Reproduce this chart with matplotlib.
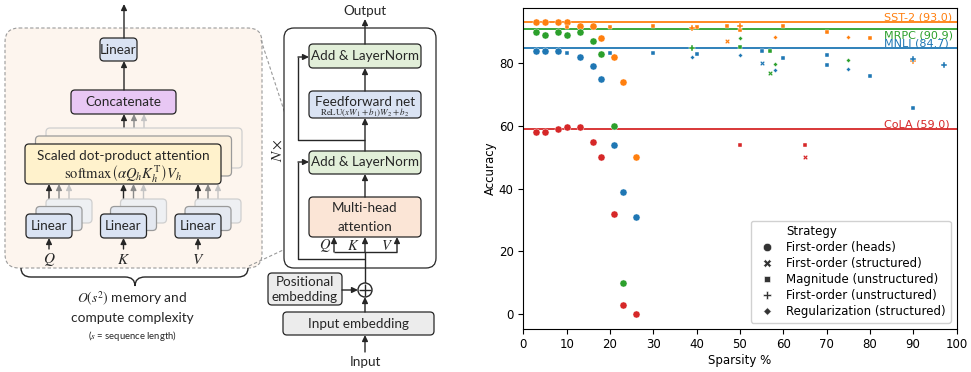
import matplotlib.pyplot as plt
from matplotlib.patches import FancyBboxPatch, FancyArrowPatch, Circle, PathPatch
from matplotlib.path import Path
from matplotlib.lines import Line2D

plt.rcParams['mathtext.fontset'] = 'stix'

# ---------------- data ----------------
tasks = ["SST-2", "MRPC", "MNLI", "CoLA"]
baselines = [93.0, 90.9, 84.7, 59.0]
task_colors = ["#ff7f0e", "#2ca02c", "#1f77b4", "#d62728"]

strategy_names = ["First-order (heads)", "First-order (structured)",
                  "Magnitude (unstructured)", "First-order (unstructured)",
                  "Regularization (structured)"]
strategy_keys = ["heads", "fo_struct", "mag", "fo_unstruct", "reg"]

# (strategy, sparsity %, accuracy)
sst2_points = [
    ("heads", 3, 93.0), ("heads", 5, 93.0), ("heads", 8, 93.0), ("heads", 10, 93.0),
    ("heads", 13, 92.0), ("heads", 16, 92.0), ("heads", 18, 88.0), ("heads", 21, 82.0),
    ("heads", 23, 74.0), ("heads", 26, 50.0),
    ("mag", 10, 91.6), ("mag", 20, 91.6), ("mag", 30, 91.9), ("mag", 40, 91.4),
    ("mag", 47, 92.0), ("mag", 50, 90.6), ("mag", 60, 91.9), ("mag", 70, 90.0), ("mag", 80, 88.0),
    ("fo_unstruct", 39, 91.1), ("fo_unstruct", 50, 91.9), ("fo_unstruct", 90, 80.6),
    ("fo_struct", 47, 87.0),
    ("reg", 58, 88.3), ("reg", 75, 88.3),
]
mrpc_points = [
    ("heads", 3, 90.0), ("heads", 5, 89.0), ("heads", 8, 90.0), ("heads", 10, 89.0),
    ("heads", 13, 90.0), ("heads", 16, 87.0), ("heads", 18, 83.0), ("heads", 21, 60.0),
    ("heads", 23, 10.0),
    ("fo_unstruct", 39, 84.7),
    ("reg", 50, 88.0), ("reg", 58, 79.7), ("reg", 75, 81.0),
    ("mag", 50, 85.1), ("mag", 57, 83.8),
    ("fo_struct", 57, 77.0),
]
mnli_points = [
    ("heads", 3, 84.0), ("heads", 5, 84.0), ("heads", 8, 84.0), ("heads", 13, 82.0),
    ("heads", 16, 79.0), ("heads", 18, 75.0), ("heads", 21, 54.0), ("heads", 23, 39.0),
    ("heads", 26, 31.0),
    ("mag", 10, 83.2), ("mag", 20, 83.4), ("mag", 30, 83.4), ("mag", 40, 83.0),
    ("mag", 55, 84.0), ("mag", 60, 81.8), ("mag", 70, 82.6), ("mag", 70, 79.5),
    ("mag", 80, 75.9), ("mag", 90, 65.8),
    ("reg", 39, 82.0), ("reg", 50, 82.7), ("reg", 58, 77.8), ("reg", 75, 78.3),
    ("fo_struct", 55, 80.0),
    ("fo_unstruct", 90, 81.3), ("fo_unstruct", 97, 79.4),
]
cola_points = [
    ("heads", 3, 58.0), ("heads", 5, 58.0), ("heads", 8, 59.0), ("heads", 10, 59.5),
    ("heads", 13, 59.5), ("heads", 16, 55.0), ("heads", 18, 50.0), ("heads", 21, 32.0),
    ("heads", 23, 3.0), ("heads", 26, 0.0),
    ("mag", 50, 54.0), ("mag", 65, 54.0),
    ("fo_struct", 65, 50.0),
]
task_points = [sst2_points, mrpc_points, mnli_points, cola_points]

markers = {"heads": "o", "fo_struct": "X", "mag": (4, 0, 45),
           "fo_unstruct": "P", "reg": (4, 0, 0)}
marker_sizes = {"heads": 26, "fo_struct": 13, "mag": 10, "fo_unstruct": 14, "reg": 11}

fig = plt.figure(figsize=(9.71, 3.72), dpi=100)

# ---------------- transformer diagram ----------------
ax = fig.add_axes([0, 0, 480 / 971, 1])
ax.set_xlim(0, 480)
ax.set_ylim(372, 0)
ax.axis("off")

FONT = "Lato"
INK = "#262626"
LIN_BLUE = "#dae3f3"
GREEN = "#e2efd9"
GRAY_BOX = "#ececec"
FS = 9.7


def box(x0, y0, x1, y1, fc, ec=INK, lw=0.9, r=4, z=2, ls="-"):
    p = FancyBboxPatch((x0, y0), x1 - x0, y1 - y0,
                       boxstyle=f"round,pad=0,rounding_size={r}",
                       fc=fc, ec=ec, lw=lw, ls=ls, zorder=z)
    ax.add_patch(p)


def arrow(x0, y0, x1, y1, color=INK, lw=1.0, z=3):
    a = FancyArrowPatch((x0, y0), (x1, y1),
                        arrowstyle="-|>,head_length=0.35,head_width=0.17",
                        mutation_scale=10, color=color, lw=lw,
                        shrinkA=0, shrinkB=0, zorder=z)
    ax.add_patch(a)


def line(xs, ys, color=INK, lw=1.0, z=3, ls="-"):
    ax.plot(xs, ys, color=color, lw=lw, zorder=z, ls=ls, solid_capstyle="butt")


def label(x, y, s, size=FS, z=5, **kw):
    ax.text(x, y, s, ha="center", va="center", fontsize=size,
            family=FONT, color=INK, zorder=z, **kw)


# multi-head attention detail panel
box(5, 28, 262, 268, fc="#fdf5ee", ec="#9a9a9a", lw=0.8, r=14, z=0, ls=(0, (3, 2)))

arrow(124, 38, 124, 4)
box(100, 38, 137, 61, LIN_BLUE)
label(118.5, 49.5, "Linear")
arrow(124, 90, 124, 61)
box(71, 90, 176, 114, "#e8c7f4")
label(123.5, 102, "Concatenate")

layer_faces = ["#fff2cc", "#fcf0dc", "#fcf4ea"]
layer_edges = [INK, "#9a9a9a", "#cfcfcf"]
arrow_cols = [INK, "#8a8a8a", "#c4c4c4"]
lin_faces = [LIN_BLUE, "#e4e8f0", "#eef0f3"]

# stacked attention heads
for k in (2, 1, 0):
    box(25 + 10.5 * k, 144 - 8 * k, 221 + 10.5 * k, 184 - 8 * k,
        layer_faces[k], layer_edges[k], z=2 + (2 - k) * 0.5)
    arrow(124 + 10 * k, 144 - 8 * k, 124 + 10 * k, 114, color=arrow_cols[k], z=1.8)
label(123, 156, "Scaled dot-product attention", z=6)
ax.text(123, 174, r"$\mathrm{softmax}\left(\alpha Q_h K_h^{\mathrm{T}}\right)V_h$",
        ha="center", va="center", fontsize=10.5, color=INK, zorder=6)

# stacked Q/K/V projections
for cx0, name in zip((26, 100.5, 175), ("Q", "K", "V")):
    for k in (2, 1, 0):
        box(cx0 + 10 * k, 214 - 7.5 * k, cx0 + 46 + 10 * k, 238 - 7.5 * k,
            lin_faces[k], layer_edges[k], z=2 + (2 - k) * 0.5)
        arrow(cx0 + 23 + 10 * k, 214 - 7.5 * k, cx0 + 23 + 10 * k, 184,
              color=arrow_cols[k], z=1.8)
    label(cx0 + 23, 226, "Linear", z=6)
    arrow(cx0 + 23, 249, cx0 + 23, 238)
    ax.text(cx0 + 23, 259, f"${name}$", ha="center", va="center",
            fontsize=11, color=INK)

# curly brace under the panel
brace = Path([(21, 268), (21, 277), (31, 277), (125, 277), (135, 277), (135, 286),
              (135, 277), (145, 277), (238, 277), (248, 277), (248, 268)],
             [Path.MOVETO, Path.CURVE3, Path.CURVE3, Path.LINETO, Path.CURVE3, Path.CURVE3,
              Path.CURVE3, Path.CURVE3, Path.LINETO, Path.CURVE3, Path.CURVE3])
ax.add_patch(PathPatch(brace, fc="none", ec=INK, lw=1.0))
label(132, 299, r"$O(s^2)$ memory and", size=9.8)
label(132, 318, "compute complexity", size=9.8)
label(132, 336, r"($s$ = sequence length)", size=6.8)

# zoom guide lines
line([261, 312], [40, 196], color="#9a9a9a", lw=0.8, z=0.5, ls=(0, (3, 2)))
line([249, 311], [266, 237], color="#9a9a9a", lw=0.8, z=0.5, ls=(0, (3, 2)))

# encoder block
label(365, 11, "Output")
arrow(365, 44, 365, 19)
box(284, 28, 436, 268, "white", r=10, z=1)
ax.text(277, 150, r"$N\times$", rotation=90, ha="center", va="center",
        fontsize=11, color=INK)
box(309, 44, 421, 68, GREEN)
label(365, 56, "Add & LayerNorm")
arrow(365, 91, 365, 68)
box(309, 91, 421, 118, LIN_BLUE)
label(365, 102, "Feedforward net")
ax.text(365, 113, r"$\mathrm{ReLU}(xW_1+b_1)W_2+b_2$", ha="center", va="center",
        fontsize=6.5, color=INK, zorder=5)
line([365, 298, 298], [140, 140, 57])
arrow(298, 57, 309, 57)
arrow(365, 151, 365, 118)
box(309, 151, 421, 174, GREEN)
label(365, 162.5, "Add & LayerNorm")
arrow(365, 197, 365, 174)
box(309, 197, 421, 237, "#fbe5d6")
label(365, 208, "Multi-head")
label(365, 227, "attention")

line([334, 397], [252, 252])
for qx in (334, 365, 397):
    arrow(qx, 252, qx, 237)
for qx, name in zip((325, 353, 387), ("Q", "K", "V")):
    ax.text(qx, 245, f"${name}$", ha="center", va="center", fontsize=10.5, color=INK)
line([365, 298, 298], [259, 259, 162])
arrow(298, 162, 309, 162)
line([365, 365], [283, 252])

ax.add_patch(Circle((365, 290), 7, fc="white", ec=INK, lw=1.0, zorder=4))
line([359, 371], [290, 290], z=5)
line([365, 365], [284, 296], z=5)
box(268, 273, 342, 305, GRAY_BOX)
label(305, 282, "Positional")
label(305, 297, "embedding")
arrow(342, 290, 358, 290)
box(283, 312, 434, 335, GRAY_BOX)
label(358.5, 323.5, "Input embedding")
arrow(365, 312, 365, 297)
arrow(365, 352, 365, 335)
label(365, 362, "Input")

# ---------------- pruning scatter ----------------
sx = fig.add_axes([523.3 / 971, (372 - 328.7) / 372, 433.2 / 971, 320.7 / 372])
for name, base, col, pts in zip(tasks, baselines, task_colors, task_points):
    sx.axhline(base, color=col, lw=1.3, zorder=1)
    for key in strategy_keys:
        xs = [p[1] for p in pts if p[0] == key]
        ys = [p[2] for p in pts if p[0] == key]
        if xs:
            sx.scatter(xs, ys, s=marker_sizes[key], marker=markers[key], color=col,
                       edgecolor="white", linewidth=0.3, zorder=3)
    if name == "MRPC":
        sx.text(83.2, base - 0.5, f"{name} ({base:.1f})", color=col, fontsize=8,
                ha="left", va="top", zorder=4)
    else:
        sx.text(83.2, base + 0.6, f"{name} ({base:.1f})", color=col, fontsize=8,
                ha="left", va="baseline", zorder=4)

sx.set_xlim(0, 100)
sx.set_ylim(-4.7, 97.6)
sx.set_xticks(range(0, 101, 10))
sx.set_yticks(range(0, 81, 20))
sx.tick_params(labelsize=8.5)
sx.set_xlabel("Sparsity %", fontsize=8.5, labelpad=2)
sx.set_ylabel("Accuracy", fontsize=8.5, labelpad=1)

handles = [Line2D([], [], linestyle="none", marker="")]
for key in strategy_keys:
    handles.append(Line2D([], [], linestyle="none", marker=markers[key], color="#333333",
                          markersize=6 if key == "heads" else 5.5, markeredgecolor="white",
                          markeredgewidth=0.4))
sx.legend(handles, ["Strategy"] + strategy_names, loc="lower right", fontsize=8.5,
          handletextpad=0.6, labelspacing=0.25, borderpad=0.4, framealpha=0.9,
          edgecolor="#cccccc")

fig.savefig("out.png", dpi=100)
